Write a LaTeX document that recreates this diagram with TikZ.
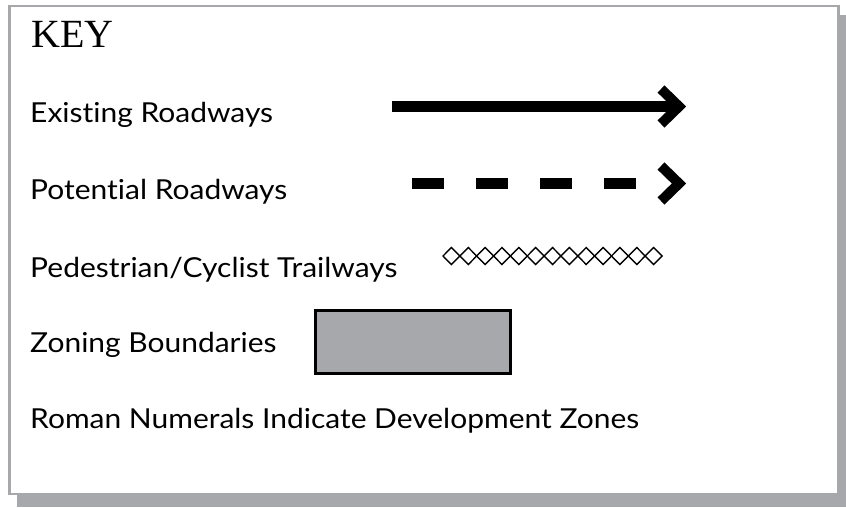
\documentclass[tikz,border=0pt]{standalone}
\usepackage{fontspec}
\setmainfont{Lato}[Ligatures=NoCommon,FakeStretch=1.09]
\newfontfamily\keyfont{Liberation Serif}
\definecolor{keygray}{HTML}{A7A8AB}
\begin{document}
\begin{tikzpicture}[x=1pt,y=-1pt,
  lbl/.style={anchor=base west,inner sep=0pt,font=\fontsize{27.5}{32}\selectfont},
  road/.style={line width=10.5pt},
  chev/.style={line width=10pt,miter limit=10,line join=miter},
  trail/.style={line width=1.4pt,line join=miter}]
\useasboundingbox (0,0) rectangle (846,507);
% shadow and frame
\fill[keygray] (17,15) rectangle (846,507);
\draw[keygray,fill=white,line width=2.5pt] (9.5,6) rectangle (838.5,494);
% title
\node[anchor=base west,inner sep=0pt,font=\keyfont\fontsize{40}{44}\selectfont] (key) at (31,47) {KEY};
% labels
\node[lbl] (l1) at (30,122) {Existing Roadways};
\node[lbl] (l2) at (30,199) {Potential Roadways};
\node[lbl] (l3) at (30,277) {Pedestrian/Cyclist Trailways};
\node[lbl] (l4) at (30,352) {Zoning Boundaries};
\node[lbl] (l5) at (30,428) {Roman Numerals Indicate Development Zones};
% existing roadway
\coordinate (e1) at (392,106.5);
\coordinate (e2) at (679,106.5);
\coordinate (e3) at (661,89);
\coordinate (e4) at (661,124);
\draw[road] (e1) -- (e2);
\draw[chev] (e3) -- (e2) -- (e4);
% potential roadway
\coordinate (p1) at (412,183.5);
\coordinate (p2) at (636,183.5);
\coordinate (p3) at (679,183.5);
\coordinate (p4) at (661,166);
\coordinate (p5) at (661,201);
\draw[line width=11pt,dash pattern=on 32pt off 32pt] (p1) -- (p2);
\draw[chev] (p4) -- (p3) -- (p5);
% trailway
\foreach \i in {0,...,12}{
  \pgfmathsetmacro{\xa}{443+16.85*\i}
  \draw[trail] (\xa,256) -- (\xa+8.425,247.5) -- (\xa+16.85,256) -- (\xa+8.425,264.5) -- cycle;
}
% zoning boundary
\node[draw=black,fill=keygray,line width=2.5pt,minimum width=195pt,minimum height=63pt,inner sep=0pt,anchor=north west] (zone) at (314,309) {};
\end{tikzpicture}
\end{document}
